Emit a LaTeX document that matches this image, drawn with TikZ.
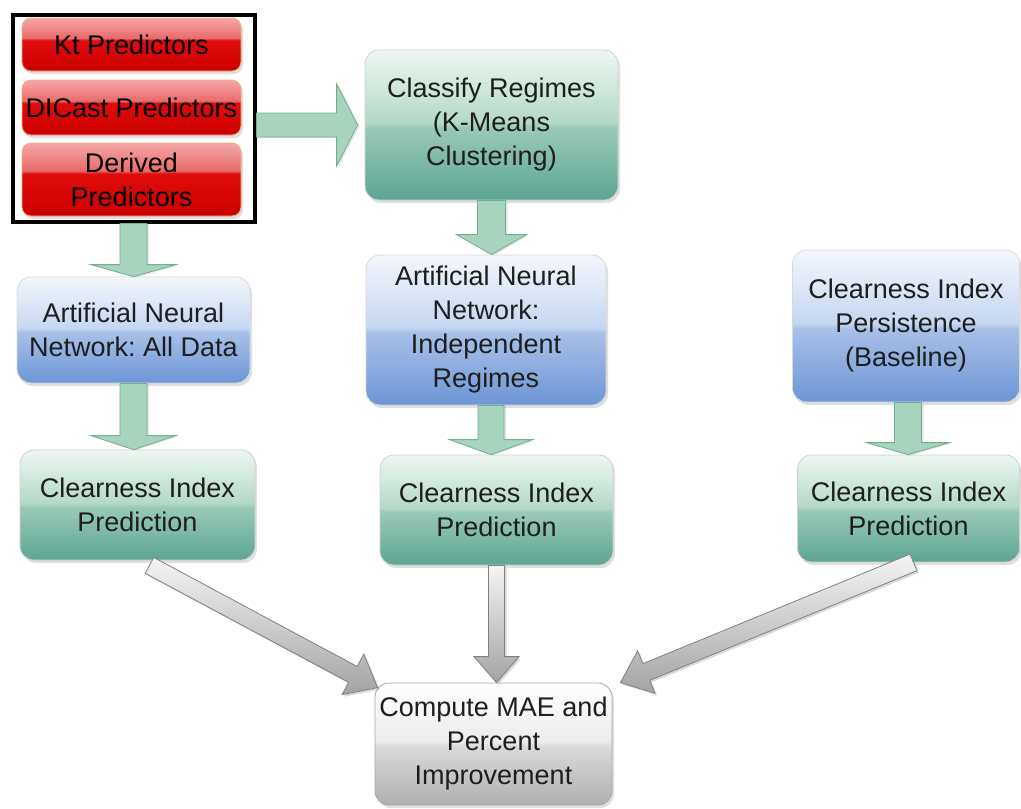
\documentclass[tikz,border=0pt]{standalone}
\usepackage{fontspec}
\setmainfont{Liberation Sans}
\usetikzlibrary{calc,shadows}
\frenchspacing

% palette
\definecolor{txt}{HTML}{1E1E1E}
\definecolor{gT}{HTML}{EEF7F2}
\definecolor{gL}{HTML}{B4D9C8}
\definecolor{gM}{HTML}{98CAB6}
\definecolor{gB}{HTML}{5DA594}
\definecolor{bT}{HTML}{F4F7FC}
\definecolor{bL}{HTML}{C6D7F0}
\definecolor{bM}{HTML}{A8C0E8}
\definecolor{bB}{HTML}{6C96D6}
\definecolor{rT}{HTML}{F4A8A8}
\definecolor{rL}{HTML}{EA6A6A}
\definecolor{rM}{HTML}{E00C0C}
\definecolor{rB}{HTML}{CC0000}
\definecolor{kT}{HTML}{FFFFFF}
\definecolor{kL}{HTML}{ECECEC}
\definecolor{kM}{HTML}{DADADA}
\definecolor{kB}{HTML}{B0B0B0}
\definecolor{arrowgreen}{HTML}{A6D4BE}
\definecolor{arrowgreenedge}{HTML}{74AE8C}

% glossy vertical fills: darker lower half, pale upper half
\pgfdeclareverticalshading{glossgreen}{100bp}{color(0bp)=(gB); color(25bp)=(gB); color(49bp)=(gM); color(51bp)=(gL); color(75bp)=(gT); color(100bp)=(gT)}
\pgfdeclareverticalshading{glossblue}{100bp}{color(0bp)=(bB); color(25bp)=(bB); color(49bp)=(bM); color(51bp)=(bL); color(75bp)=(bT); color(100bp)=(bT)}
\pgfdeclareverticalshading{glossred}{100bp}{color(0bp)=(rB); color(25bp)=(rB); color(54bp)=(rM); color(56bp)=(rL); color(75bp)=(rT); color(100bp)=(rT)}
\pgfdeclareverticalshading{glossgray}{100bp}{color(0bp)=(kB); color(25bp)=(kB); color(49bp)=(kM); color(51bp)=(kL); color(75bp)=(kT); color(100bp)=(kT)}

% block arrow between two points: style, from, to, shaft half width, head half width, head length
\newcommand{\fatarrow}[6]{%
  \coordinate (fa-h) at ($(#3)!#6!(#2)$);
  \draw[#1] ($(#2)!#4!90:(#3)$) -- ($(fa-h)!#4!-90:(#2)$) -- ($(fa-h)!#5!-90:(#2)$)
    -- (#3) -- ($(fa-h)!#5!90:(#2)$) -- ($(fa-h)!#4!90:(#2)$) -- ($(#2)!#4!-90:(#3)$) -- cycle;
}

\begin{document}
\begin{tikzpicture}[x=1pt,y=-1pt,
  box/.style={rounded corners=14pt, align=center, inner sep=0pt, text=txt,
    font=\fontsize{27}{34}\selectfont, line width=0.8pt,
    drop shadow={opacity=0.25, shadow xshift=2pt, shadow yshift=-3pt}},
  greenbox/.style={box, shading=glossgreen, draw=black!18},
  bluebox/.style={box, shading=glossblue, draw=black!15},
  graybox/.style={box, shading=glossgray, draw=black!35},
  redbox/.style={box, rounded corners=9pt, shading=glossred, draw=orange!55!brown!60,
    minimum width=219pt, text=black},
  greenarrow/.style={fill=arrowgreen, draw=arrowgreenedge, line width=0.8pt,
    drop shadow={opacity=0.2, shadow xshift=2pt, shadow yshift=-1pt}},
  grayarrow/.style={top color=black!4, bottom color=black!36, draw=black!50, line width=0.8pt,
    drop shadow={opacity=0.3, shadow xshift=2pt, shadow yshift=-2pt}},
  frame/.style={draw=black, line width=4pt, inner sep=0pt}
]
\useasboundingbox (0,0) rectangle (1021,809);

% predictor groups
\node[frame, minimum width=242pt, minimum height=207pt] (frame) at (133.5,118) {};
\node[redbox, minimum height=53pt] (kt) at (131.5,44.5) {Kt Predictors};
\node[redbox, minimum height=55pt] (dicast) at (131.5,107.5) {DICast Predictors};
\node[redbox, minimum height=73pt] (derived) at (131.5,179.5) {Derived\\Predictors};

% processing blocks
\node[greenbox, minimum width=253pt, minimum height=150pt] (classify) at (491.5,125) {Classify Regimes\\(K-Means\\Clustering)};
\node[bluebox, minimum width=233pt, minimum height=106pt] (annall) at (133.5,330) {Artificial Neural\\Network: All Data};
\node[bluebox, minimum width=240pt, minimum height=150pt] (annind) at (486,330) {Artificial Neural\\Network:\\Independent\\Regimes};
\node[bluebox, minimum width=227pt, minimum height=152pt] (persist) at (906,326) {Clearness Index\\Persistence\\(Baseline)};

% predictions
\node[greenbox, minimum width=235pt, minimum height=110pt] (cileft) at (137.5,505) {Clearness Index\\Prediction};
\node[greenbox, minimum width=233pt, minimum height=110pt] (cimid) at (496.5,510) {Clearness Index\\Prediction};
\node[greenbox, minimum width=222pt, minimum height=107pt] (ciright) at (908.5,508.5) {Clearness Index\\Prediction};

% evaluation
\node[graybox, minimum width=237pt, minimum height=122pt] (compute) at (493.5,744) {Compute MAE and\\Percent\\Improvement};

% green block arrows
\coordinate (fr-out) at (frame.east |- classify.west);
\coordinate (cl-in) at ($(classify.west)+(-7,0)$);
\fatarrow{greenarrow}{fr-out}{cl-in}{12pt}{41pt}{21pt}
\coordinate (fr-dn) at (annall.north -| frame.south);
\fatarrow{greenarrow}{frame.south}{fr-dn}{13.5pt}{42.5pt}{12pt}
\coordinate (cl-dn) at (annind.north -| classify.south);
\fatarrow{greenarrow}{classify.south}{cl-dn}{14pt}{35pt}{20pt}
\coordinate (aa-dn) at (cileft.north -| annall.south);
\fatarrow{greenarrow}{annall.south}{aa-dn}{13.5pt}{42.5pt}{14pt}
\coordinate (ai-src) at ($(annind.south)+(5,0)$);
\coordinate (ai-dn) at (cimid.north -| ai-src);
\fatarrow{greenarrow}{ai-src}{ai-dn}{13pt}{41.5pt}{15pt}
\coordinate (pe-src) at ($(persist.south)+(2,0)$);
\coordinate (pe-dn) at (ciright.north -| pe-src);
\fatarrow{greenarrow}{pe-src}{pe-dn}{13.5pt}{41.5pt}{12pt}

% gray block arrows into the evaluation block
\coordinate (l-src) at ($(cileft.south)+(12,5)$);
\coordinate (l-tip) at ($(compute.north west)+(3,5)$);
\fatarrow{grayarrow}{l-src}{l-tip}{9pt}{23pt}{28pt}
\coordinate (m-tip) at (compute.north -| cimid.south);
\fatarrow{grayarrow}{cimid.south}{m-tip}{8pt}{22.5pt}{26pt}
\coordinate (r-src) at ($(ciright.south)+(5,0)$);
\coordinate (r-tip) at ($(compute.north east)+(8,0)$);
\fatarrow{grayarrow}{r-src}{r-tip}{9pt}{23pt}{28pt}
\end{tikzpicture}
\end{document}
